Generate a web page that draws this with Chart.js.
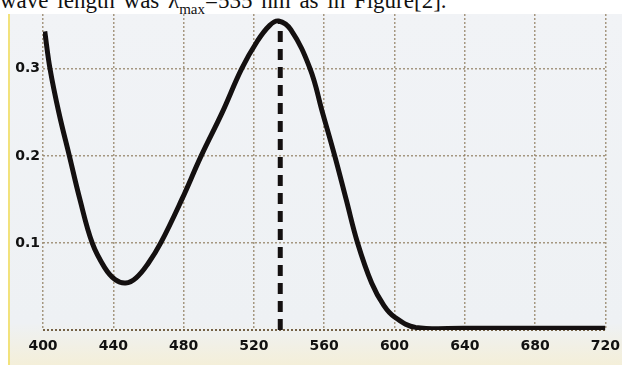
<!DOCTYPE html>
<html>
<head>
<meta charset="utf-8">
<script src="https://cdn.jsdelivr.net/npm/chart.js@4.4.0/dist/chart.umd.min.js"></script>
<style>
  html, body { margin: 0; padding: 0; background: #fff; }
  #wrap { position: relative; width: 628px; height: 365px; overflow: hidden; }
  #caption {
    position: absolute; left: 0; top: -12px; white-space: nowrap;
    font-family: "Liberation Serif", serif; font-size: 23px; color: #111; word-spacing: 3px;
  }
  #caption sub { font-size: 15px; }
  #photo {
    position: absolute; left: 8px; top: 14px; width: 612px; height: 351px;
    background: linear-gradient(180deg, #f1f3f6 0%, #eef1f4 88%, #f4efd9 100%);
    border-left: 2px solid #f2e27c;
  }
  #myChart { position: absolute; left: 0; top: 0; }
</style>
</head>
<body>
<div id="wrap">
  <div id="caption">wave length was λ<sub>max</sub>=535 nm as in Figure[2].</div>
  <div id="photo"></div>
  <canvas id="myChart" width="628" height="365"></canvas>
</div>
<script>
// wavelength (nm) and absorbance
const wavelengths = [401, 404, 409, 415, 421, 428, 435, 441, 447, 453, 460, 467, 479, 490, 502, 513, 522, 529, 534, 541, 552, 559, 566, 572.5, 579, 587, 594, 600, 612, 640, 680, 720]
const absorbance = [0.343, 0.30, 0.25, 0.20, 0.15, 0.10, 0.072, 0.058, 0.054, 0.060, 0.077, 0.10, 0.15, 0.20, 0.25, 0.30, 0.332, 0.35, 0.355, 0.345, 0.30, 0.25, 0.20, 0.15, 0.10, 0.054, 0.028, 0.015, 0.003, 0.002, 0.002, 0.002]
const lambdaMax = 535
const peakValue = 0.355
const xTicks = [400, 440, 480, 520, 560, 600, 640, 680, 720]
const yTicks = [0.1, 0.2, 0.3]

const canvas = document.getElementById('myChart')
const gridColor = 'rgba(140, 120, 90, 0.75)'

const config = {
    type: 'line',
    data: {
        datasets: [{
            data: wavelengths.map((w, i) => ({ x: w, y: absorbance[i] })),
            borderColor: '#141010',
            borderWidth: 5,
            pointRadius: 0,
            tension: 0.4
        }, {
            data: [{ x: lambdaMax, y: 0 }, { x: lambdaMax, y: peakValue }],
            borderColor: '#141010',
            borderWidth: 5,
            borderDash: [11, 7],
            pointRadius: 0
        }]
    },
    options: {
        animation: false,
        responsive: false,
        plugins: { legend: { display: false }, tooltip: { enabled: false } },
        layout: { padding: { top: 14, right: 20, left: 0, bottom: 0 } },
        scales: {
            x: {
                type: 'linear', min: 400, max: 720,
                afterBuildTicks: axis => { axis.ticks = xTicks.map(v => ({ value: v })) },
                afterFit: axis => { axis.height = 35 },
                grid: { color: gridColor, lineWidth: 1.5, drawTicks: false },
                // dotted grid like the printed chart
                border: { display: false, dash: [2, 2] },
                ticks: {
                    padding: 8,
                    color: '#111',
                    font: { family: 'DejaVu Sans', size: 14, weight: 'bold' }
                }
            },
            y: {
                min: 0, max: 0.363,
                afterBuildTicks: axis => { axis.ticks = [0].concat(yTicks).map(v => ({ value: v })) },
                afterFit: axis => { axis.width = 43 },
                grid: {
                    color: ctx => ctx.tick && ctx.tick.value === 0 ? 'rgba(110, 90, 60, 0.95)' : gridColor,
                    lineWidth: ctx => ctx.tick && ctx.tick.value === 0 ? 2 : 1.5,
                    drawTicks: false
                },
                border: { display: false, dash: [2, 2] },
                ticks: {
                    padding: 3,
                    color: '#111',
                    font: { family: 'DejaVu Sans', size: 14, weight: 'bold' },
                    callback: v => v === 0 ? '' : v.toFixed(1)
                }
            }
        }
    }
}

const myChart = new Chart(canvas, config)
</script>
</body>
</html>
